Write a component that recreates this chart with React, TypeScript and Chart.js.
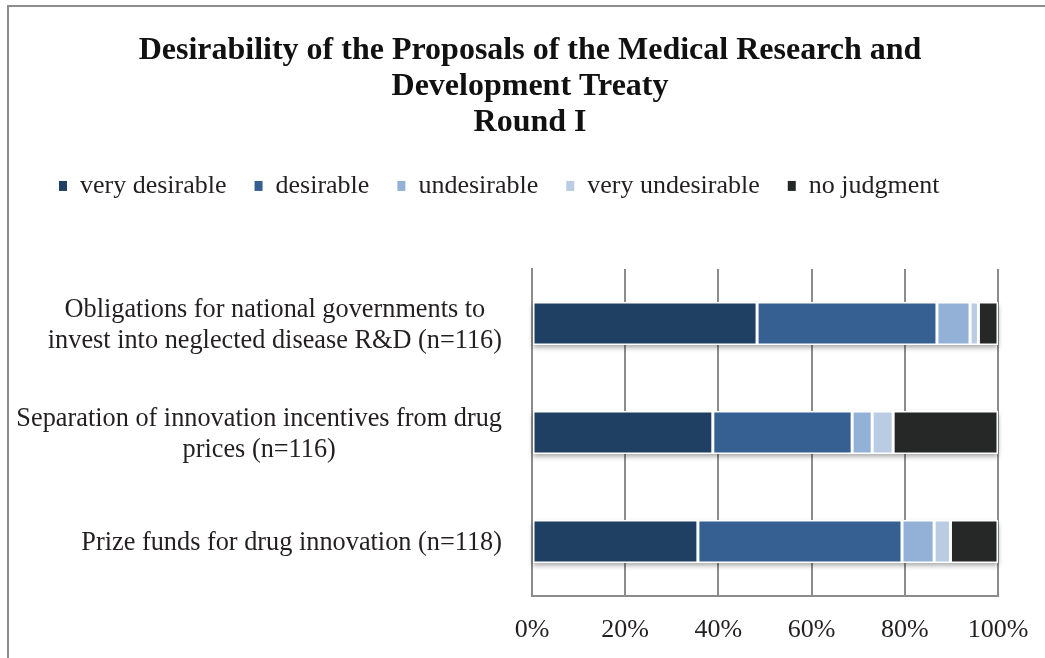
import React, { useEffect, useRef } from "react";
import { Chart, registerables } from "chart.js";

Chart.register(...registerables);

const categories: string[][] = [
  ["Obligations for national governments to", "invest into neglected disease R&D (n=116)"],
  ["Separation of innovation incentives from drug", "prices (n=116)"],
  ["Prize funds for drug innovation (n=118)"],
];

const seriesNames = ["very desirable", "desirable", "undesirable", "very undesirable", "no judgment"];
const veryDesirable = [48.3, 38.8, 35.6];
const desirable = [38.6, 29.9, 43.8];
const undesirable = [7.1, 4.3, 6.9];
const veryUndesirable = [1.8, 4.5, 3.5];
const noJudgment = [4.2, 22.5, 10.2];
const seriesColors = ["#1F4063", "#366092", "#93B1D7", "#B9CCE4", "#262727"];

const titleLines = [
  "Desirability of the Proposals of the Medical Research and",
  "Development Treaty",
  "Round I",
];

const FONT = '"Liberation Serif", "Times New Roman", serif';
const TEXT = "#231F20";
const GRID = "#8C8C8C";

const framePlugin = {
  id: "frame",
  beforeDraw(chart: any) {
    const { ctx, width, height } = chart;
    ctx.save();
    ctx.strokeStyle = GRID;
    ctx.lineWidth = 2;
    ctx.beginPath();
    ctx.moveTo(8, height);
    ctx.lineTo(8, 6);
    ctx.lineTo(width, 6);
    ctx.stroke();
    ctx.restore();
  },
};

const shadowPlugin = {
  id: "barShadow",
  beforeDatasetsDraw(chart: any) {
    const { ctx } = chart;
    const n = chart.data.datasets.length;
    const last = chart.getDatasetMeta(n - 1);
    const first = chart.getDatasetMeta(0);
    ctx.save();
    ctx.shadowColor = "rgba(0,0,0,0.35)";
    ctx.shadowBlur = 5;
    ctx.shadowOffsetY = 3;
    ctx.fillStyle = "#FFFFFF";
    last.data.forEach((el: any, i: number) => {
      const f = first.data[i] as any;
      const left = Math.min(f.base, f.x);
      const right = el.x;
      ctx.fillRect(left, el.y - el.height / 2, right - left, el.height);
    });
    ctx.restore();
  },
};

const yLabelPlugin = {
  id: "yLabels",
  afterDraw(chart: any) {
    const { ctx } = chart;
    const yScale = chart.scales.y;
    ctx.save();
    ctx.font = `26.3px ${FONT}`;
    ctx.fillStyle = TEXT;
    ctx.textAlign = "center";
    ctx.textBaseline = "middle";
    (chart.data.labels as any[]).forEach((lab, i) => {
      const lines: string[] = Array.isArray(lab) ? lab : [lab];
      const w = Math.max(...lines.map((l) => ctx.measureText(l).width));
      const cx = chart.chartArea.left - 30 - w / 2;
      const cy = yScale.getPixelForTick(i) + 2;
      lines.forEach((l, j) => {
        ctx.fillText(l, cx, cy + (j - (lines.length - 1) / 2) * 31);
      });
    });
    ctx.restore();
  },
};

export default function App() {
  const ref = useRef<HTMLCanvasElement>(null);

  useEffect(() => {
    if (!ref.current) return;
    const values = [veryDesirable, desirable, undesirable, veryUndesirable, noJudgment];
    const chart = new Chart(ref.current, {
      type: "bar",
      data: {
        labels: categories as any,
        datasets: seriesNames.map((name, i) => ({
          label: name,
          data: values[i],
          backgroundColor: seriesColors[i],
          borderColor: "#FFFFFF",
          borderWidth: 1.5,
          borderSkipped: false,
          categoryPercentage: 1,
          barPercentage: 0.395,
        })),
      },
      options: {
        indexAxis: "y",
        animation: false,
        responsive: false,
        maintainAspectRatio: false,
        layout: { padding: { left: 31, right: 16, top: 0, bottom: 0 }, autoPadding: false } as any,
        scales: {
          x: {
            stacked: true,
            min: 0,
            max: 100,
            ticks: {
              stepSize: 20,
              padding: 16,
              color: TEXT,
              font: { family: FONT, size: 26, lineHeight: 1.4 },
              callback: (v: any) => v + "%",
            },
            grid: { color: GRID, lineWidth: 2, drawTicks: false },
            border: { display: true, color: GRID, width: 2 },
            afterFit: (s: any) => {
              s.height = 62;
            },
          },
          y: {
            stacked: true,
            ticks: { display: false },
            grid: { display: false, drawTicks: false },
            border: { display: true, color: GRID, width: 2 },
            afterFit: (s: any) => {
              s.width = 501;
            },
          },
          y2: {
            position: "right",
            ticks: { display: false },
            grid: { display: false, drawTicks: false },
            border: { display: false },
            afterFit: (s: any) => {
              s.width = 31;
            },
          },
        } as any,
        plugins: {
          title: {
            display: true,
            text: titleLines,
            color: "#111111",
            font: { family: FONT, size: 32, weight: "bold", lineHeight: 1.14 },
            padding: { top: 32, bottom: 3.5 },
          },
          legend: {
            display: true,
            position: "top",
            align: "start",
            labels: {
              boxWidth: 8,
              boxHeight: 10,
              padding: 28,
              color: TEXT,
              font: { family: FONT, size: 26 },
              generateLabels: (c: any) =>
                Chart.defaults.plugins.legend.labels
                  .generateLabels(c)
                  .map((l: any) => ({ ...l, lineWidth: 0, strokeStyle: l.fillStyle })),
            },
          },
          subtitle: {
            display: true,
            text: "",
            weight: 500,
            font: { size: 10, lineHeight: 1 },
            padding: { top: 0, bottom: 50 },
          } as any,
          tooltip: { enabled: false },
        },
      },
      plugins: [framePlugin, shadowPlugin, yLabelPlugin],
    });
    return () => chart.destroy();
  }, []);

  return (
    <div style={{ position: "fixed", left: 0, top: 0, width: 1045, height: 658, background: "#fff" }}>
      <canvas ref={ref} width={1045} height={658} style={{ display: "block" }} />
    </div>
  );
}
